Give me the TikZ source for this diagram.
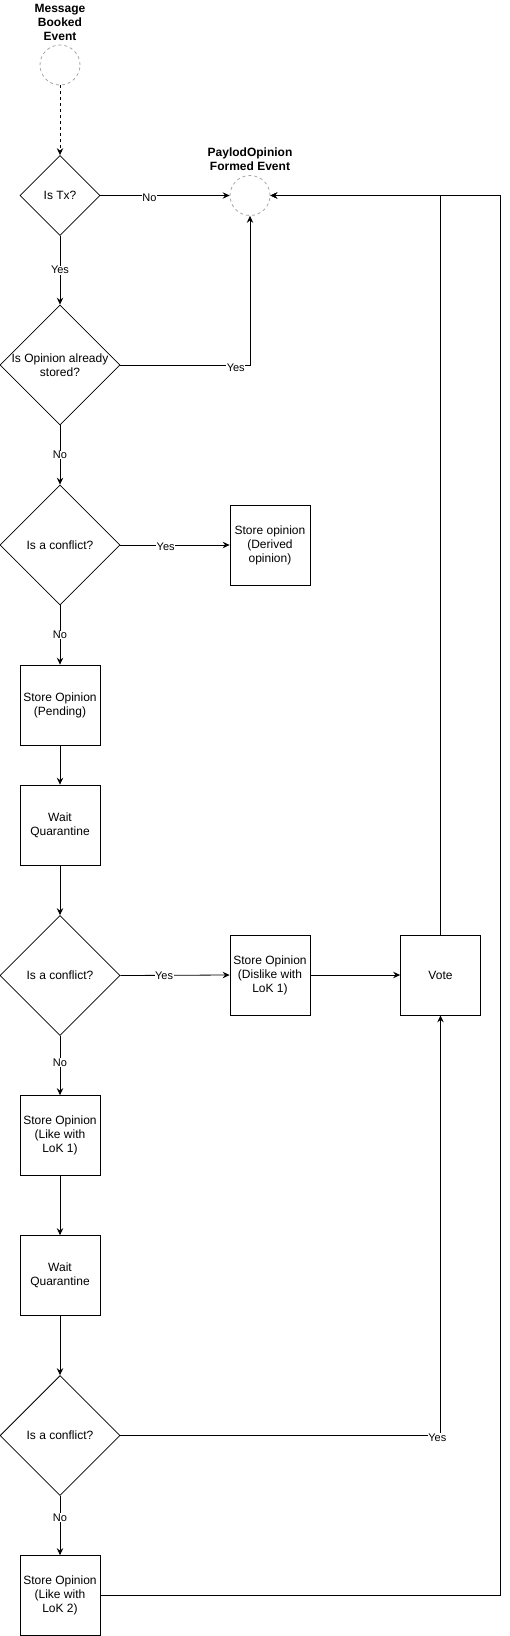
\documentclass[tikz,border=0pt]{standalone}
\usepackage{fontspec}
\setmainfont{Liberation Sans}
\usetikzlibrary{shapes.geometric,arrows.meta}
\begin{document}
\begin{tikzpicture}[x=1pt,y=-1pt,
  every node/.style={font=\fontsize{12}{14}\selectfont},
  ev/.style={circle,draw=gray!70,dashed,dash pattern=on 3pt off 3pt,minimum size=40pt,inner sep=0pt,line width=0.8pt},
  title/.style={font=\bfseries\fontsize{12}{14}\selectfont,align=center},
  dec/.style={diamond,draw,aspect=1,inner sep=0pt,line width=0.8pt},
  box/.style={rectangle,draw,minimum width=80pt,minimum height=80pt,inner sep=1pt,align=center,line width=0.8pt},
  arr/.style={-{Stealth[length=7pt,width=6.5pt,inset=2.5pt]},line width=0.8pt},
  lbl/.style={fill=white,inner sep=0.5pt,font=\fontsize{11}{13}\selectfont}
]
\useasboundingbox (0,0) rectangle (509,1636);
% nodes
\node[title] (t1) at (60,22) {Message\\Booked\\Event};
\node[ev] (start) at (60,65) {};
\node[title] (t2) at (250,159) {PaylodOpinion\\Formed Event};
\node[ev] (ev) at (250,195.5) {};
\node[dec,minimum size=80pt] (d1) at (60,195.5) {};
\node (d1t) at (60,195.5) {Is Tx?};
\node[dec,minimum size=120pt] (d2) at (60,365) {};
\node[align=center] (d2t) at (60,365) {Is Opinion already\\stored?};
\node[dec,minimum size=120pt] (d3) at (60,545) {};
\node (d3t) at (60,545) {Is a conflict?};
\node[box] (derived) at (270,545) {Store opinion\\(Derived\\opinion)};
\node[box] (pending) at (60,705) {Store Opinion\\(Pending)};
\node[box] (wq1) at (60,825) {Wait\\Quarantine};
\node[dec,minimum size=120pt] (d4) at (60,975.5) {};
\node (d4t) at (60,975.5) {Is a conflict?};
\node[box] (dislike) at (270,975) {Store Opinion\\(Dislike with\\LoK 1)};
\node[box] (vote) at (440.5,975) {Vote};
\node[box] (like1) at (60,1135.5) {Store Opinion\\(Like with\\LoK 1)};
\node[box] (wq2) at (60,1275.5) {Wait\\Quarantine};
\node[dec,minimum size=120pt] (d5) at (60,1435.5) {};
\node (d5t) at (60,1435.5) {Is a conflict?};
\node[box] (like2) at (60,1595.5) {Store Opinion\\(Like with\\LoK 2)};
% edges
\draw[arr,dash pattern=on 3pt off 3pt] (start) -- (d1);
\draw[arr] (d1.east) -- node[lbl,pos=0.38,yshift=-2pt] {No} (ev.west);
\draw[arr] (d1.south) -- node[lbl] {Yes} (d2.north);
\draw[arr] (d2.east) -| node[lbl,pos=0.445,yshift=-3pt] {Yes} (ev.south);
\draw[arr] (d2.south) -- node[lbl] {No} (d3.north);
\draw[arr] (d3.east) -- node[lbl,pos=0.415,yshift=-2pt] {Yes} (derived.west);
\draw[arr] (d3.south) -- node[lbl] {No} (pending.north);
\draw[arr] (pending) -- (wq1);
\draw[arr] (wq1) -- (d4.north);
\draw[arr] (d4.east) -- node[lbl,pos=0.4] {Yes} (dislike.west);
\draw[arr] (dislike) -- (vote);
\draw[arr] (d4.south) -- node[lbl,pos=0.45] {No} (like1.north);
\draw[arr] (like1) -- (wq2);
\draw[arr] (wq2) -- (d5.north);
\draw[arr] (d5.east) -| node[lbl,pos=0.495,yshift=-2pt] {Yes} (vote.south);
\draw[arr] (d5.south) -- node[lbl,pos=0.37] {No} (like2.north);
\draw[arr] (vote.north) |- (ev.east);
\draw[arr] (like2.east) -- ++(400,0) |- (ev.east);
\end{tikzpicture}
\end{document}
